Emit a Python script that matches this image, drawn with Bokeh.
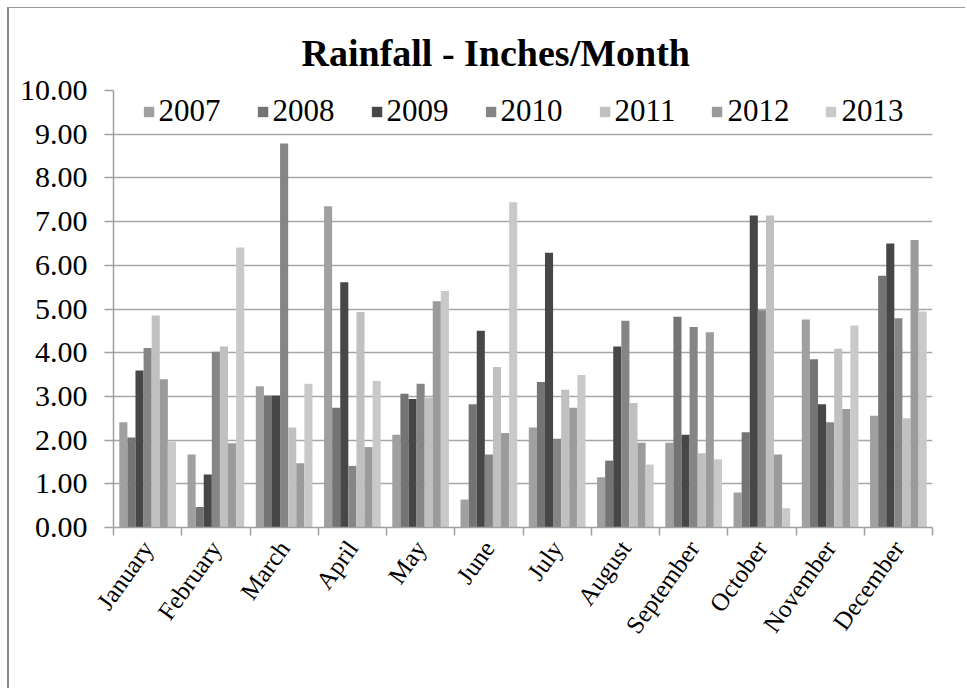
from bokeh.plotting import figure
from bokeh.models import (ColumnDataSource, Range1d, LinearAxis, FixedTicker,
                          NumeralTickFormatter, Legend, LegendItem)
from bokeh.transform import dodge
from bokeh.embed import file_html
from bokeh.resources import INLINE

months = ["January", "February", "March", "April", "May", "June", "July",
          "August", "September", "October", "November", "December"]
years = ["2007", "2008", "2009", "2010", "2011", "2012", "2013"]

y2007 = [2.41, 1.67, 3.23, 7.35, 2.12, 0.64, 2.29, 1.15, 1.94, 0.80, 4.76, 2.56]
y2008 = [2.06, 0.47, 3.02, 2.74, 3.06, 2.82, 3.33, 1.53, 4.82, 2.18, 3.85, 5.76]
y2009 = [3.59, 1.21, 3.02, 5.61, 2.94, 4.50, 6.29, 4.14, 2.12, 7.14, 2.82, 6.50]
y2010 = [4.11, 4.02, 8.79, 1.41, 3.29, 1.67, 2.03, 4.73, 4.59, 4.97, 2.41, 4.79]
y2011 = [4.85, 4.14, 2.29, 4.93, 2.97, 3.67, 3.15, 2.85, 1.70, 7.14, 4.09, 2.50]
y2012 = [3.39, 1.93, 1.47, 1.84, 5.18, 2.16, 2.74, 1.94, 4.47, 1.67, 2.71, 6.58]
y2013 = [1.97, 6.41, 3.29, 3.35, 5.41, 7.44, 3.49, 1.44, 1.56, 0.44, 4.62, 4.94]

y_ticks = [0, 1, 2, 3, 4, 5, 6, 7, 8, 9, 10]
title_text = "Rainfall - Inches/Month"

series = [y2007, y2008, y2009, y2010, y2011, y2012, y2013]
colors = ["#a0a0a0", "#747474", "#474747", "#858585", "#c0c0c0", "#9b9b9b", "#c9c9c9"]

n = len(months)
centers = [i + 0.5 for i in range(n)]
edges = list(range(n + 1))

data = {"month": months, "pos": centers}
for yr, vals in zip(years, series):
    data[yr] = vals
source = ColumnDataSource(data)

SERIF = "Liberation Serif"

p = figure(x_range=Range1d(0, n), y_range=Range1d(0, 10),
           width=958, height=681, output_backend="svg", toolbar_location=None,
           x_axis_location=None, y_axis_location=None,
           min_border_left=104, min_border_right=35, min_border_top=82, min_border_bottom=162)
p.styles = {"margin-left": "7px", "margin-top": "7px",
            "border-left": "2px solid #8c8c8c", "border-top": "1px solid #9a9a9a"}
p.outline_line_color = None
p.background_fill_color = "white"
p.border_fill_color = "white"

p.title.text = title_text
p.title.text_font = SERIF
p.title.text_font_style = "bold"
p.title.text_font_size = "38px"
p.title.text_color = "black"
p.title.align = "left"
p.title.offset = 188
p.title.standoff = 34

bar_w = 0.1186
renderers = []
for i, (yr, col) in enumerate(zip(years, colors)):
    r = p.vbar(x=dodge("pos", (i - 3) * bar_w), top=yr, width=bar_w,
               source=source, fill_color=col, line_color=None)
    renderers.append((yr, r))

# y axis
yax = LinearAxis(ticker=FixedTicker(ticks=y_ticks), formatter=NumeralTickFormatter(format="0.00"))
yax.axis_line_color = "#a0a0a0"
yax.axis_line_width = 1.5
yax.major_tick_line_color = "#a0a0a0"
yax.major_tick_line_width = 1.5
yax.major_tick_out = 9
yax.major_tick_in = 0
yax.minor_tick_line_color = None
yax.major_label_text_font = SERIF
yax.major_label_text_font_size = "30px"
yax.major_label_text_color = "black"
yax.major_label_standoff = 17
p.add_layout(yax, "left")

# x axis: labels at centers, tick marks at category boundaries
xax = LinearAxis(ticker=FixedTicker(ticks=centers, minor_ticks=edges))
xax.major_label_overrides = {c: m for c, m in zip(centers, months)}
xax.axis_line_color = "#a0a0a0"
xax.axis_line_width = 1.5
xax.major_tick_line_color = None
xax.major_tick_out = 8
xax.major_tick_in = 0
xax.minor_tick_line_color = "#a0a0a0"
xax.minor_tick_line_width = 1.5
xax.minor_tick_out = 8
xax.minor_tick_in = 0
xax.major_label_orientation = 0.95
xax.major_label_text_font = SERIF
xax.major_label_text_font_size = "25px"
xax.major_label_text_color = "black"
xax.major_label_standoff = 8
p.add_layout(xax, "below")

p.xgrid.visible = False
p.ygrid.ticker = FixedTicker(ticks=y_ticks)
p.ygrid.grid_line_color = "#a6a6a6"
p.ygrid.grid_line_width = 1.5

legend = Legend(items=[LegendItem(label=yr, renderers=[r]) for yr, r in renderers],
                orientation="horizontal", location="top_center")
legend.label_text_font = SERIF
legend.label_text_font_size = "31px"
legend.label_text_color = "black"
legend.glyph_width = 13
legend.glyph_height = 13
legend.label_standoff = 4
legend.spacing = 35
legend.padding = 2
legend.margin = 3
legend.border_line_color = None
legend.background_fill_alpha = 0
p.add_layout(legend, "center")

open("out.html", "w").write(file_html(p, INLINE))
